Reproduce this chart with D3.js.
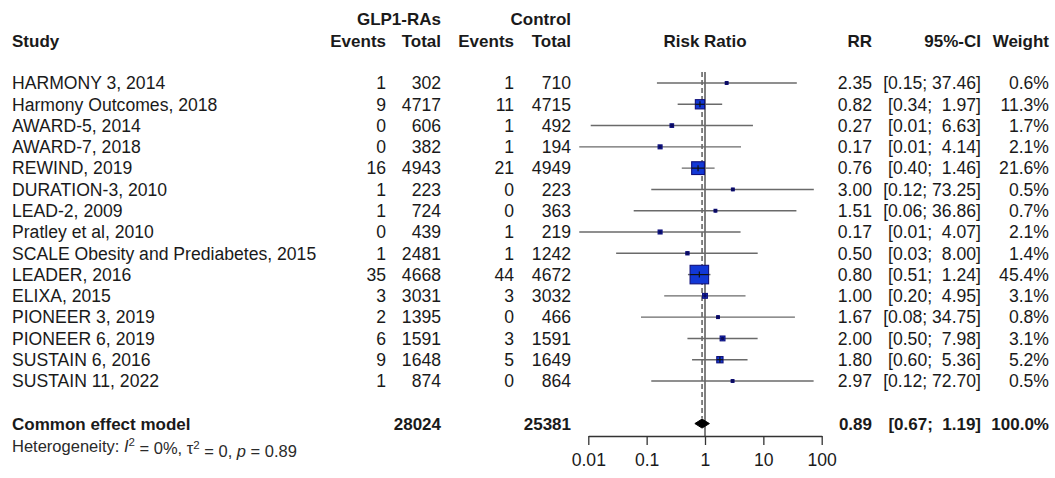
<!DOCTYPE html>
<html>
<head>
<meta charset="utf-8">
<script src="https://cdn.jsdelivr.net/npm/d3@7"></script>
<style>
  html, body { margin: 0; padding: 0; background: #fff; }
  svg text { font-family: "Liberation Sans", Arial, Helvetica, sans-serif; fill: #1a1a1a; }
</style>
</head>
<body>
<svg id="chart" width="1055" height="478"></svg>
<script>
// ---------------- data ----------------
const studies = ["HARMONY 3, 2014", "Harmony Outcomes, 2018", "AWARD-5, 2014", "AWARD-7, 2018",
  "REWIND, 2019", "DURATION-3, 2010", "LEAD-2, 2009", "Pratley et al, 2010",
  "SCALE Obesity and Prediabetes, 2015", "LEADER, 2016", "ELIXA, 2015", "PIONEER 3, 2019",
  "PIONEER 6, 2019", "SUSTAIN 6, 2016", "SUSTAIN 11, 2022"];
const eventsE = [1, 9, 0, 0, 16, 1, 1, 0, 1, 35, 3, 2, 6, 9, 1];
const totalE  = [302, 4717, 606, 382, 4943, 223, 724, 439, 2481, 4668, 3031, 1395, 1591, 1648, 874];
const eventsC = [1, 11, 1, 1, 21, 0, 0, 1, 1, 44, 3, 0, 3, 5, 0];
const totalC  = [710, 4715, 492, 194, 4949, 223, 363, 219, 1242, 4672, 3032, 466, 1591, 1649, 864];
const rr      = [2.35, 0.82, 0.27, 0.17, 0.76, 3.00, 1.51, 0.17, 0.50, 0.80, 1.00, 1.67, 2.00, 1.80, 2.97];
const lower   = [0.15, 0.34, 0.011, 0.007, 0.40, 0.12, 0.06, 0.007, 0.03, 0.51, 0.20, 0.08, 0.50, 0.60, 0.12];
const upper   = [37.46, 1.97, 6.63, 4.14, 1.46, 73.25, 36.86, 4.07, 8.00, 1.24, 4.95, 34.75, 7.98, 5.36, 72.70];
const weights = [0.6, 11.3, 1.7, 2.1, 21.6, 0.5, 0.7, 2.1, 1.4, 45.4, 3.1, 0.8, 3.1, 5.2, 0.5];

const pooledLabel = "Common effect model";
const pooledTotals = [28024, 25381];
const pooledRR = 0.89, pooledLower = 0.67, pooledUpper = 1.19, pooledWeight = 100.0;

const tickValues = [0.01, 0.1, 1, 10, 100];
const tickLabels = ["0.01", "0.1", "1", "10", "100"];

// ---------------- layout ----------------
const svg = d3.select("#chart");
const FS = 17.6;
const x = d3.scaleLog().domain([0.01, 100]).range([588.3, 821.7]);
const y = d3.scaleLinear().domain([0, studies.length - 1]).range([83, 381]);
const rowStep = y(1) - y(0);
const yPooled = y(studies.length - 1) + 2 * rowStep;
const yHead2 = y(0) - 2 * rowStep;
const yHead1 = yHead2 - rowStep;
const axisY = 436;

const colX = { study: 12, evE: 386, totE: 441, evC: 514, totC: 571, rr: 872, ci: 981, w: 1049 };

function txt(xp, yp, s, anchor, bold, size) {
  return svg.append("text")
    .attr("x", xp).attr("y", yp).attr("dy", "0.36em")
    .attr("text-anchor", anchor || "start")
    .attr("font-size", size || FS)
    .attr("font-weight", bold ? "bold" : "normal")
    .attr("xml:space", "preserve")
    .style("white-space", "pre")
    .text(s);
}

function fmtCI(lo, hi) {
  const l = lo.toFixed(2), h = hi.toFixed(2);
  return "[" + l.padStart(4, " ") + "; " + h.padStart(5, " ") + "]";
}

// headers
txt(colX.totE, yHead1, "GLP1-RAs", "end", true, 17);
txt(colX.totC, yHead1, "Control", "end", true, 17);
txt(colX.study, yHead2, "Study", "start", true, 17);
txt(colX.evE, yHead2, "Events", "end", true, 17);
txt(colX.totE, yHead2, "Total", "end", true, 17);
txt(colX.evC, yHead2, "Events", "end", true, 17);
txt(colX.totC, yHead2, "Total", "end", true, 17);
txt(x(1), yHead2, "Risk Ratio", "middle", true, 17);
txt(colX.rr, yHead2, "RR", "end", true, 17);
txt(colX.ci, yHead2, "95%-CI", "end", true, 17);
txt(colX.w, yHead2, "Weight", "end", true, 17);

// study rows text
studies.forEach((s, i) => {
  const yy = y(i);
  txt(colX.study, yy, s, "start");
  txt(colX.evE, yy, String(eventsE[i]), "end");
  txt(colX.totE, yy, String(totalE[i]), "end");
  txt(colX.evC, yy, String(eventsC[i]), "end");
  txt(colX.totC, yy, String(totalC[i]), "end");
  txt(colX.rr, yy, rr[i].toFixed(2), "end");
  txt(colX.ci, yy, fmtCI(lower[i], upper[i]), "end");
  txt(colX.w, yy, weights[i].toFixed(1) + "%", "end");
});

// pooled row text
txt(colX.study, yPooled, pooledLabel, "start", true, 17);
txt(colX.totE, yPooled, String(pooledTotals[0]), "end", true, 17);
txt(colX.totC, yPooled, String(pooledTotals[1]), "end", true, 17);
txt(colX.rr, yPooled, pooledRR.toFixed(2), "end", true, 17);
txt(colX.ci, yPooled, fmtCI(pooledLower, pooledUpper), "end", true, 17);
txt(colX.w, yPooled, pooledWeight.toFixed(1) + "%", "end", true, 17);

// heterogeneity
const het = svg.append("text").attr("x", colX.study).attr("y", yPooled + rowStep + 1)
  .attr("dy", "0.36em").attr("font-size", 16.5).attr("xml:space", "preserve").style("white-space", "pre")
  .style("fill", "#2a2a2a");
het.append("tspan").text("Heterogeneity: ");
het.append("tspan").attr("font-style", "italic").text("I");
het.append("tspan").attr("font-size", 11.5).attr("dy", "-0.5em").text("2");
het.append("tspan").attr("dy", "0.5em").text(" = 0%, τ");
het.append("tspan").attr("font-size", 11.5).attr("dy", "-0.5em").text("2");
het.append("tspan").attr("dy", "0.5em").text(" = 0, ");
het.append("tspan").attr("font-style", "italic").text("p");
het.append("tspan").text(" = 0.89");

// ---------------- plot ----------------
const g = svg.append("g");

// reference line at 1
g.append("line").attr("x1", x(1)).attr("x2", x(1)).attr("y1", 72).attr("y2", axisY)
  .attr("stroke", "#4a4a4a").attr("stroke-width", 1.4);
// pooled dashed line
g.append("line").attr("x1", x(pooledRR)).attr("x2", x(pooledRR)).attr("y1", 72).attr("y2", yPooled - 5)
  .attr("stroke", "#444").attr("stroke-width", 1.3).attr("stroke-dasharray", "5,3");

// CI lines
studies.forEach((s, i) => {
  const yy = y(i);
  g.append("line").attr("x1", x(lower[i])).attr("x2", x(upper[i])).attr("y1", yy).attr("y2", yy)
    .attr("stroke", "#6a6a6a").attr("stroke-width", 1.4);
});

// squares
studies.forEach((s, i) => {
  const yy = y(i), cx = x(rr[i]);
  const side = Math.max(2.75 * Math.sqrt(weights[i]), 2.8);
  g.append("rect").attr("x", cx - side / 2).attr("y", yy - side / 2).attr("width", side).attr("height", side)
    .attr("fill", "#1238d6").attr("stroke", "#10107a").attr("stroke-width", 1.1);
  if (side > 6) {
    g.append("line").attr("x1", cx - side / 2).attr("x2", cx + side / 2).attr("y1", yy).attr("y2", yy)
      .attr("stroke", "#111").attr("stroke-width", 1.2);
    g.append("line").attr("x1", cx).attr("x2", cx).attr("y1", yy - 3).attr("y2", yy + 3)
      .attr("stroke", "#111").attr("stroke-width", 1.2);
  } else {
    g.append("circle").attr("cx", cx).attr("cy", yy).attr("r", 1.8).attr("fill", "#0a0a60");
  }
});

// diamond
const dh = 4.5;
g.append("path")
  .attr("d", `M${x(pooledLower)},${yPooled} L${x(pooledRR)},${yPooled - dh} L${x(pooledUpper)},${yPooled} L${x(pooledRR)},${yPooled + dh} Z`)
  .attr("fill", "#000").attr("stroke", "#000").attr("stroke-width", 1);

// axis
const axis = d3.axisBottom(x).tickValues(tickValues)
  .tickFormat((d, i) => tickLabels[i]).tickSize(9).tickSizeOuter(0).tickPadding(9);
const ag = svg.append("g").attr("transform", `translate(0,${axisY})`).call(axis);
ag.select(".domain").attr("stroke", "#333").attr("stroke-width", 1.3);
ag.selectAll(".tick line").attr("stroke", "#333").attr("stroke-width", 1.3);
ag.selectAll(".tick text").attr("font-size", FS).attr("fill", "#1a1a1a")
  .attr("font-family", "'Liberation Sans', Arial, sans-serif");
</script>
</body>
</html>
